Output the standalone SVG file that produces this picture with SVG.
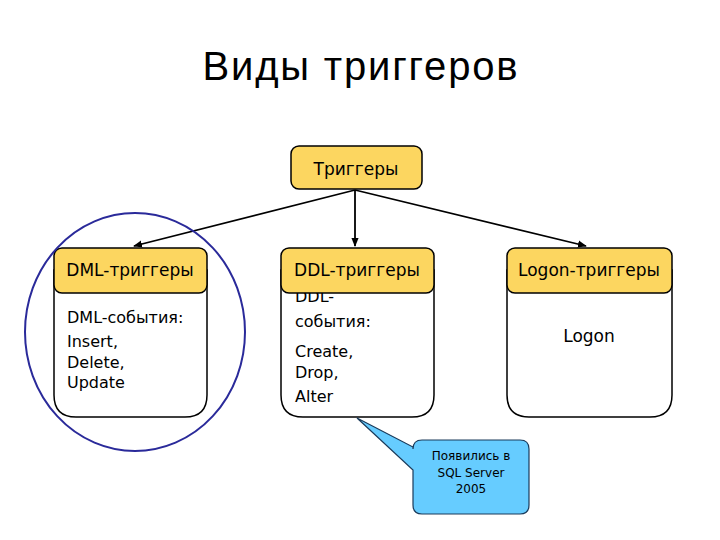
<svg xmlns="http://www.w3.org/2000/svg" width="720" height="540" viewBox="0 0 720 540">
<defs>
<marker id="arr" viewBox="0 0 10 10" refX="9" refY="5" markerWidth="9" markerHeight="9" orient="auto" markerUnits="userSpaceOnUse">
<path d="M0,1 L10,5 L0,9 Z" fill="#000"/>
</marker>
<style>
.hdr{fill:#FCD660;stroke:#000;stroke-width:1.5}
.body{fill:#fff;stroke:#000;stroke-width:1.5}
.t{font-family:"DejaVu Sans",Verdana,sans-serif;fill:#000}
.h{font-size:17px}
.b{font-size:16px}
.conn{stroke:#000;stroke-width:1.8;fill:none;marker-end:url(#arr)}
</style>
</defs>
<rect width="720" height="540" fill="#fff"/>
<text x="360" y="80" text-anchor="middle" font-family="Liberation Sans,Arial,sans-serif" font-size="40" textLength="315" lengthAdjust="spacing" fill="#000">Виды триггеров</text>

<g id="connectors">
<line class="conn" x1="355" y1="190" x2="134" y2="246"/>
<line class="conn" x1="355" y1="190" x2="355" y2="246"/>
<line class="conn" x1="355" y1="190" x2="586" y2="246"/>
</g>

<g id="root">
<rect class="hdr" x="291" y="146" width="131" height="43" rx="8"/>
<text class="t h" x="356" y="175" text-anchor="middle">Триггеры</text>
</g>

<g id="dml">
<path class="body" d="M54,270 L207,270 L207,395 Q207,417 185,417 L76,417 Q54,417 54,395 Z"/>
<text class="t b" x="67" y="323">DML-события:</text>
<text class="t b" x="67" y="347">Insert,</text>
<text class="t b" x="67" y="368">Delete,</text>
<text class="t b" x="67" y="388">Update</text>
<rect class="hdr" x="54" y="248" width="153" height="45" rx="8"/>
<text class="t h" x="130" y="276" text-anchor="middle">DML-триггеры</text>
</g>

<g id="ddl">
<path class="body" d="M281,270 L434,270 L434,395 Q434,417 412,417 L303,417 Q281,417 281,395 Z"/>
<text class="t b" x="295" y="302">DDL-</text>
<text class="t b" x="295" y="327">события:</text>
<text class="t b" x="295" y="357">Create,</text>
<text class="t b" x="295" y="378">Drop,</text>
<text class="t b" x="295" y="402">Alter</text>
<rect class="hdr" x="281" y="248" width="153" height="45" rx="8"/>
<text class="t h" x="357" y="276" text-anchor="middle">DDL-триггеры</text>
</g>

<g id="logon">
<path class="body" d="M507,270 L672,270 L672,395 Q672,417 650,417 L529,417 Q507,417 507,395 Z"/>
<text class="t" font-size="17" x="589" y="342" text-anchor="middle">Logon</text>
<rect class="hdr" x="507" y="248" width="165" height="45" rx="8"/>
<text class="t h" x="589" y="276" text-anchor="middle">Logon-триггеры</text>
</g>

<g id="highlight">
<ellipse cx="135" cy="332" rx="110" ry="119" fill="none" stroke="#2A2A9A" stroke-width="2"/>
</g>

<g id="callout">
<path d="M422,440 L520,440 Q529,440 529,449 L529,505 Q529,514 520,514 L422,514 Q413,514 413,505 L413,470 L357,418 L413,447 L413,449 Q413,440 422,440 Z" fill="#66CCFF" stroke="#1a3a5a" stroke-width="1.2"/>
<text class="t" font-size="12" x="471" y="460" text-anchor="middle">Появились в</text>
<text class="t" font-size="12" x="471" y="477" text-anchor="middle">SQL Server</text>
<text class="t" font-size="12" x="471" y="493" text-anchor="middle">2005</text>
</g>
</svg>
